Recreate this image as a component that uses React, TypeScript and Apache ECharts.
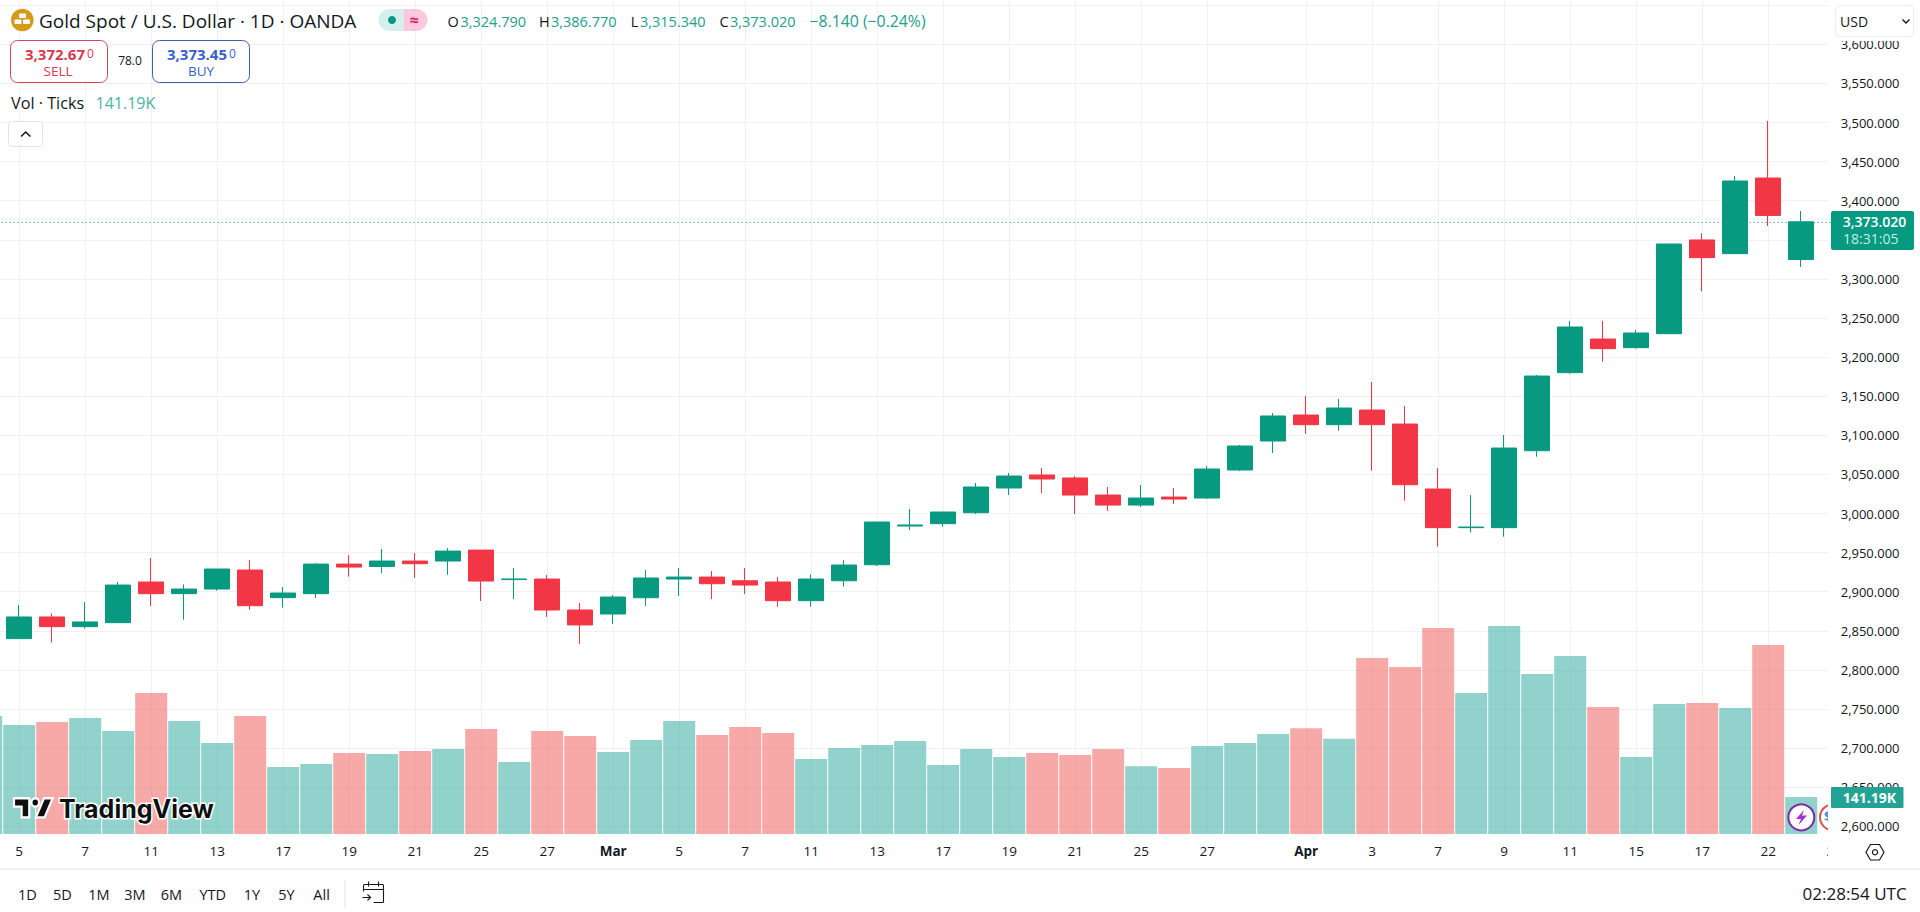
import React, { useEffect, useRef } from "react";
import * as echarts from "echarts";

const UP = "#089981";
const DOWN = "#f23645";
const INK = "#131722";
const FONT = "'Open Sans', sans-serif";

// The chart div starts this far left of the page so the Feb 4 bar can be clipped by the window
const BLEED = 40;

// Trading days, Feb 4 and Apr 24 only sit at the clipped edges of the plot
const dates = [
  "Feb 4", "Feb 5", "Feb 6", "Feb 7", "Feb 10", "Feb 11", "Feb 12", "Feb 13", "Feb 14",
  "Feb 17", "Feb 18", "Feb 19", "Feb 20", "Feb 21", "Feb 24", "Feb 25", "Feb 26", "Feb 27", "Feb 28",
  "Mar 3", "Mar 4", "Mar 5", "Mar 6", "Mar 7", "Mar 10", "Mar 11", "Mar 12", "Mar 13", "Mar 14",
  "Mar 17", "Mar 18", "Mar 19", "Mar 20", "Mar 21", "Mar 24", "Mar 25", "Mar 26", "Mar 27", "Mar 28",
  "Mar 31", "Apr 1", "Apr 2", "Apr 3", "Apr 4", "Apr 7", "Apr 8", "Apr 9", "Apr 10", "Apr 11",
  "Apr 14", "Apr 15", "Apr 16", "Apr 17", "Apr 21", "Apr 22", "Apr 23", "Apr 24",
];

// Empty string = no label and no vertical grid line
const tickLabels = [
  "", "5", "", "7", "", "11", "", "13", "", "17", "", "19", "", "21", "", "25", "", "27", "",
  "Mar", "", "5", "", "7", "", "11", "", "13", "", "17", "", "19", "", "21", "", "25", "", "27", "",
  "", "Apr", "", "3", "", "7", "", "9", "", "11", "", "15", "", "17", "", "22", "", "24",
];

const opens = [
  "-", 2840, 2867.7, 2855.3, 2860.4, 2912.4, 2897.5, 2903.4, 2927.7,
  2892.4, 2897.5, 2935.3, 2932.3, 2939.2, 2939.2, 2953.2, 2915.5, 2916.2, 2876.6,
  2871.5, 2892.3, 2916.2, 2918.7, 2914, 2912.4, 2888.5, 2914, 2934.5, 2984,
  2987, 3001, 3032.6, 3049.2, 3045.4, 3023.6, 3010.8, 3021, 3019.8, 3055.6,
  3092.7, 3125.9, 3113.6, 3132.3, 3114.4, 3031.3, 2981.9, 2981.9, 3080.3, 3180.1,
  3223.1, 3212.1, 3229.9, 3349.8, 3332.3, 3429, 3324.79, "-",
];
const closes = [
  "-", 2867.7, 2855.3, 2861.3, 2908.5, 2897.5, 2903.4, 2929, 2882.1,
  2898.3, 2935.3, 2931.5, 2939.2, 2935.8, 2951.9, 2913.6, 2916.3, 2876.6, 2857.5,
  2893.2, 2917.5, 2918.7, 2910.2, 2908.5, 2888.5, 2916.2, 2934.1, 2989.1, 2985.3,
  3001.9, 3033.9, 3047.9, 3044.1, 3023.6, 3010.8, 3019.8, 3018.5, 3056.9, 3086.3,
  3124.7, 3113.6, 3134.9, 3113.6, 3036.8, 2981.9, 2982.7, 3083.7, 3175.8, 3238.5,
  3210.8, 3230.8, 3344.6, 3327.2, 3425.2, 3381.16, 3373.02, "-",
];
const lows = [
  "-", 2840, 2835, 2852.8, 2860.4, 2881.7, 2864.3, 2901.3, 2877,
  2879.6, 2892, 2919.2, 2923.8, 2917.5, 2921.7, 2888.1, 2890.7, 2867.7, 2833.2,
  2858.8, 2881.7, 2894.5, 2890.6, 2897, 2880.8, 2880.8, 2906.4, 2932.8, 2978.9,
  2983.1, 2999.3, 3023.6, 3026.2, 2999.3, 3003.2, 3008.3, 3012.1, 3018.5, 3054.3,
  3077.3, 3102, 3105.9, 3054.7, 3016.4, 2957.6, 2975.5, 2970.4, 3072.7, 3178.8,
  3194.2, 3210.8, 3229.9, 3284.1, 3332.3, 3367.7, 3315.34, "-",
];
const highs = [
  "-", 2883, 2872.4, 2886.8, 2912.4, 2943, 2909.4, 2929, 2940.4,
  2906, 2936.6, 2946.8, 2954.5, 2949.4, 2955.8, 2953.2, 2930.2, 2921.3, 2885.5,
  2895.8, 2927.7, 2930.3, 2926.4, 2930.3, 2918.8, 2922.2, 2940.1, 2989.1, 3005.7,
  3001.9, 3039, 3051.8, 3058.2, 3047.9, 3033.9, 3036.4, 3032.6, 3060.7, 3087.6,
  3128.5, 3150.2, 3146.4, 3168.1, 3137.5, 3058.2, 3023.6, 3100.4, 3177.1, 3246.2,
  3246.2, 3234.7, 3344.6, 3358.3, 3431.6, 3501.9, 3386.77, "-",
];

// Volume in thousands of ticks
const volumes = [
  450, 416, 427, 443, 393, 538, 431, 347, 450,
  256, 267, 309, 305, 317, 324, 401, 275, 393, 374,
  313, 359, 431, 378, 408, 385, 286, 328, 340, 355,
  263, 324, 294, 309, 301, 324, 259, 252, 336, 347,
  382, 404, 363, 672, 637, 786, 538, 794, 611, 679,
  485, 294, 496, 500, 481, 721, 141.19,
];

const lastPrice = 3373.02;
const rangeButtons = ["1D", "5D", "1M", "3M", "6M", "YTD", "1Y", "5Y", "All"];

echarts.graphic.registerShape(
  "tvLogo",
  echarts.graphic.extendPath(
    "M14 6H0v7h7v9h7V6zM28 22h-8l7.5-16h8L28 22zM23 9.5a3.5 3.5 0 1 1-7 0 3.5 3.5 0 0 1 7 0z",
    {}
  )
);
echarts.graphic.registerShape(
  "calendarIcon",
  echarts.graphic.extendPath(
    "M1 10V4a1 1 0 0 1 1-1h18a1 1 0 0 1 1 1v16a1 1 0 0 1-1 1H11M1 8h20M6 0v5M16 0v5M0 16h8M5 13l3 3-3 3",
    {}
  )
);

const text = (
  value: string,
  x: number,
  y: number,
  size: number,
  fill: string,
  extra: { align?: string; weight?: number; z?: number; family?: string } = {}
) => ({
  type: "text",
  x,
  y,
  z: extra.z ?? 20,
  silent: true,
  style: {
    text: value,
    fill,
    font: `${extra.weight ?? 400} ${size}px ${extra.family ?? FONT}`,
    textAlign: extra.align ?? "left",
    textVerticalAlign: "middle",
  },
});

const box = (x: number, y: number, width: number, height: number, r: any, fill: string, stroke?: string, z = 20) => ({
  type: "rect",
  z,
  silent: true,
  shape: { x, y, width, height, r },
  style: { fill, stroke: stroke ?? "none", lineWidth: stroke ? 1 : 0 },
});

const headerElements = [
  // symbol logo
  { type: "circle", z: 20, shape: { cx: 22.3, cy: 20, r: 11.3 }, style: { fill: "#d69a1a" } },
  box(19, 13.5, 7, 4.5, 1, "#ffffff"),
  box(14.5, 19.5, 7, 4.5, 1, "#ffffff"),
  box(23, 19.5, 7, 4.5, 1, "#ffffff"),
  text("Gold Spot / U.S. Dollar · 1D · OANDA", 39, 21, 19, INK),

  // market status pill
  box(378.5, 9, 25, 22, [11, 0, 0, 11], "#d5f0ec"),
  box(403.5, 9, 24, 22, [0, 11, 11, 0], "#fbc9de"),
  { type: "circle", z: 21, shape: { cx: 392, cy: 20, r: 4 }, style: { fill: UP } },
  text("≈", 414, 20, 16, "#d6246e", { align: "center", weight: 700 }),

  // OHLC row
  text("O", 447.6, 21, 14.5, INK),
  text("3,324.790", 460.5, 21, 14.5, "#22a08d"),
  text("H", 539, 21, 14.5, INK),
  text("3,386.770", 551, 21, 14.5, "#22a08d"),
  text("L", 630.7, 21, 14.5, INK),
  text("3,315.340", 640, 21, 14.5, "#22a08d"),
  text("C", 719.5, 21, 14.5, INK),
  text("3,373.020", 730, 21, 14.5, "#22a08d"),
  text("−8.140 (−0.24%)", 809.5, 21, 15.8, "#22a08d"),

  // sell / buy
  box(10.5, 40.5, 97, 42, 7, "#ffffff", "#d9455c"),
  text("3,372.67", 25, 54, 15, "#d9394f", { weight: 700 }),
  text("0", 87, 53, 12, "#d9394f"),
  text("SELL", 58, 71, 13.5, "#d9394f", { align: "center" }),
  text("78.0", 130, 60.5, 12, INK, { align: "center" }),
  box(152.5, 40.5, 97, 42, 7, "#ffffff", "#3f5fb5"),
  text("3,373.45", 167, 54, 15, "#3a5fc8", { weight: 700 }),
  text("0", 229, 53, 12, "#3a5fc8"),
  text("BUY", 201, 71, 13.5, "#3a5fc8", { align: "center" }),

  // volume legend
  text("Vol · Ticks", 11, 102.7, 16.2, INK),
  text("141.19K", 95.5, 102.7, 16, "#4bb3a4"),
  box(8.5, 121.5, 34, 25, 3, "#ffffff", "#e0e3eb"),
  {
    type: "polyline",
    z: 21,
    shape: { points: [[21, 136.5], [25.7, 132], [30.4, 136.5]] },
    style: { stroke: INK, lineWidth: 1.6, fill: "none" },
  },
];

const scaleElements = [
  // right-hand panel covers the plot past the edge
  box(1828, 0, 92, 868, 0, "#ffffff", undefined, 5),
  box(1828, 0, 92, 41, 0, "#ffffff", undefined, 15),
  box(1835.5, 5.5, 78, 31, 4, "#ffffff", "#eceef2"),
  text("USD", 1840, 21, 14, INK),
  {
    type: "polyline",
    z: 21,
    shape: { points: [[1902.5, 19.5], [1906, 23], [1909.5, 19.5]] },
    style: { stroke: INK, lineWidth: 1.4, fill: "none" },
  },
  box(1831, 211, 83, 39, 2, UP),
  text("3,373.020", 1842.7, 221, 14, "#ffffff", { weight: 600, z: 21 }),
  text("18:31:05", 1843, 238.7, 14, "#c0efe4", { z: 21 }),
  box(1831, 787, 72.5, 21, 1, "#22a393"),
  text("141.19K", 1842.7, 797.5, 14, "#ffffff", { weight: 700, z: 21 }),
  {
    type: "polygon",
    z: 20,
    shape: { points: [[1866, 852.3], [1870.5, 844.5], [1879.5, 844.5], [1884, 852.3], [1879.5, 860], [1870.5, 860]] },
    style: { fill: "none", stroke: INK, lineWidth: 1.2 },
  },
  { type: "circle", z: 20, shape: { cx: 1875, cy: 852.3, r: 2.6 }, style: { fill: "none", stroke: INK, lineWidth: 1.2 } },
];

const overlayElements = [
  // TradingView watermark
  {
    type: "tvLogo",
    z: 4,
    x: 14,
    y: 791,
    scaleX: 1.09,
    scaleY: 1.2,
    style: { fill: "#0f0f0f", stroke: "#ffffff", lineWidth: 2 },
  },
  {
    type: "text",
    z: 4,
    x: 59,
    y: 809,
    style: {
      text: "TradingView",
      fill: "#0f0f0f",
      stroke: "#ffffff",
      lineWidth: 3,
      font: "700 25px Inter, sans-serif",
      textVerticalAlign: "middle",
    },
  },
  // event badges on the last bars
  { type: "circle", z: 4, shape: { cx: 1801.3, cy: 817.3, r: 13 }, style: { fill: "#ffffff", stroke: "#7b2fa0", lineWidth: 2 } },
  {
    type: "polygon",
    z: 4,
    shape: { points: [[1804, 810], [1796, 819], [1801, 819], [1798.5, 825], [1807, 815.5], [1802, 815.5]] },
    style: { fill: "#a52fd0" },
  },
  { type: "circle", z: 4, shape: { cx: 1833, cy: 817.3, r: 13 }, style: { fill: "#ffffff", stroke: "#d9534f", lineWidth: 2 } },
  text("$", 1824, 816, 13, "#3a8ee6", { weight: 700, z: 4 }),
];

const footerElements = [
  { type: "line", z: 20, shape: { x1: -BLEED, y1: 869, x2: 1920, y2: 869 }, style: { stroke: "#e0e3eb", lineWidth: 1 } },
  ...rangeButtons.map((label, i) =>
    text(label, [27.3, 62.4, 99, 135, 171.4, 212.7, 252, 286.5, 321.6][i], 894, 14.5, INK, { align: "center" })
  ),
  { type: "line", z: 20, shape: { x1: 345, y1: 880, x2: 345, y2: 908 }, style: { stroke: "#e0e3eb", lineWidth: 1 } },
  {
    type: "calendarIcon",
    z: 20,
    x: 362.5,
    y: 881.5,
    style: { fill: "none", stroke: INK, lineWidth: 1.1 },
  },
  text("02:28:54 UTC", 1906.7, 893.3, 17, INK, { align: "right" }),
];

const App = () => {
  const chartRef = useRef<HTMLDivElement | null>(null);

  useEffect(() => {
    document.body.style.margin = "0";
    document.body.style.overflow = "hidden";
    if (!chartRef.current) return;
    const chart = echarts.init(chartRef.current, null, { renderer: "svg" });

    const candleData = dates.map((_, i) => [opens[i], closes[i], lows[i], highs[i]]);
    const volumeData = volumes.map((v, i) => ({
      value: v,
      itemStyle: {
        color: i === 0 || closes[i] >= opens[i] ? "rgba(38,166,154,0.5)" : "rgba(239,83,80,0.5)",
      },
    }));
    const hasTick = (index: number) => tickLabels[index] !== "";
    const priceLabel = (v: number) =>
      // 3,650 sits behind the currency button
      v >= 3650 ? "" : v.toLocaleString("en-US", { minimumFractionDigits: 3, maximumFractionDigits: 3 });

    chart.setOption({
      animation: false,
      backgroundColor: "#ffffff",
      grid: [
        { left: BLEED - 30.3, width: 1881, top: 5.2, height: 821.1 },
        { left: BLEED - 30.3, width: 1881, top: 0, height: 834 },
      ],
      xAxis: [
        {
          type: "category",
          gridIndex: 0,
          data: dates,
          axisLine: { show: false },
          axisTick: { show: false },
          axisLabel: { show: false },
          splitLine: { show: false },
        },
        {
          type: "category",
          gridIndex: 1,
          data: dates,
          axisLine: { show: false },
          axisTick: { show: false, alignWithLabel: true },
          axisLabel: {
            interval: (index: number) => hasTick(index),
            margin: 10,
            fontFamily: FONT,
            fontSize: 13.5,
            color: INK,
            formatter: (value: string) => {
              const label = tickLabels[dates.indexOf(value)];
              return label === "Mar" || label === "Apr" ? `{month|${label}}` : label;
            },
            rich: { month: { fontFamily: FONT, fontSize: 13.5, fontWeight: 700, color: INK } },
          },
          splitLine: {
            show: true,
            alignWithLabel: true,
            interval: (index: number) => hasTick(index),
            lineStyle: { color: "#f0f1f4", width: 1 },
          },
        },
      ],
      yAxis: [
        {
          type: "value",
          gridIndex: 0,
          position: "right",
          min: 2600,
          max: 3650,
          interval: 50,
          axisLine: { show: false },
          axisTick: { show: false },
          axisLabel: { show: false },
          splitLine: { show: true, lineStyle: { color: "#f0f1f4", width: 1 } },
        },
        {
          // labels only, above the white panel
          type: "value",
          gridIndex: 0,
          position: "right",
          offset: -10,
          z: 10,
          min: 2600,
          max: 3650,
          interval: 50,
          axisLine: { show: false },
          axisTick: { show: false },
          splitLine: { show: false },
          axisLabel: {
            margin: 0,
            padding: [0, 0, 11, 0],
            fontFamily: FONT,
            fontSize: 13,
            color: INK,
            formatter: priceLabel,
          },
        },
        {
          type: "value",
          gridIndex: 1,
          min: 0,
          max: 3182.5,
          show: false,
          splitLine: { show: false },
        },
      ],
      series: [
        {
          name: "Vol",
          type: "bar",
          xAxisIndex: 1,
          yAxisIndex: 2,
          barWidth: 32,
          z: 1,
          silent: true,
          data: volumeData,
        },
        {
          name: "XAUUSD",
          type: "candlestick",
          xAxisIndex: 0,
          yAxisIndex: 0,
          barWidth: 25,
          z: 2,
          silent: true,
          itemStyle: {
            color: UP,
            color0: DOWN,
            borderColor: UP,
            borderColor0: DOWN,
            borderWidth: 1,
          },
          data: candleData,
          markLine: {
            silent: true,
            symbol: ["none", "none"],
            label: { show: false },
            lineStyle: { color: UP, type: [1, 3], width: 1 },
            data: [{ yAxis: lastPrice }],
          },
        },
      ],
      graphic: {
        elements: [
          {
            type: "group",
            x: BLEED,
            y: 0,
            children: [...overlayElements, ...scaleElements, ...headerElements, ...footerElements],
          },
        ],
      },
    });

    return () => {
      chart.dispose();
    };
  }, []);

  return <div style={{ position: "fixed", left: -BLEED, top: 0, width: 1920 + BLEED, height: 912 }} ref={chartRef}></div>;
};

export default App;
